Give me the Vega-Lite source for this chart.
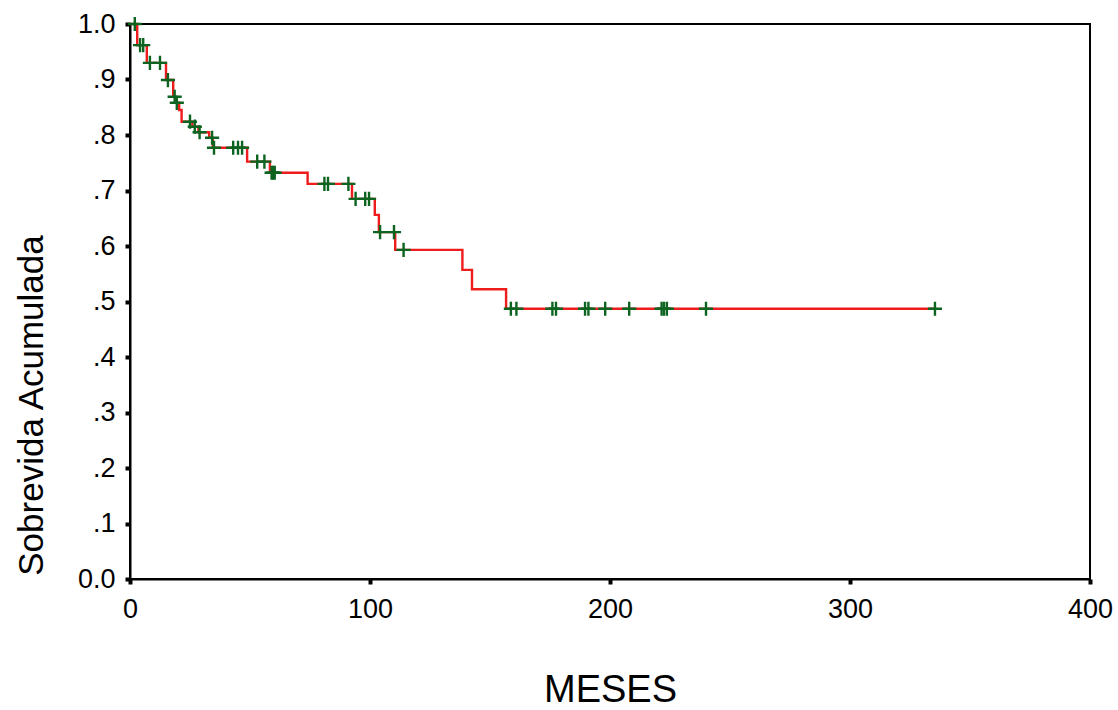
{
  "$schema": "https://vega.github.io/schema/vega-lite/v6.json",
  "width": 960,
  "height": 555,
  "autosize": {"type": "none"},
  "padding": {"left": 130, "top": 24, "right": 28, "bottom": 131},
  "background": "white",
  "config": {
    "view": {"stroke": "black", "strokeWidth": 2},
    "font": "Liberation Sans",
    "axis": {
      "grid": false,
      "domainColor": "black",
      "domainWidth": 2,
      "tickColor": "black",
      "tickSize": 5,
      "tickWidth": 4,
      "labelColor": "black",
      "titleColor": "black",
      "labelFont": "Liberation Sans",
      "titleFont": "Liberation Sans",
      "labelFontSize": 27,
      "titleFontWeight": "normal"
    }
  },
  "datasets": {
    "curve": [
      {"t": 0, "s": 1.0},
      {"t": 3, "s": 0.962},
      {"t": 7, "s": 0.93},
      {"t": 15, "s": 0.899},
      {"t": 18, "s": 0.869},
      {"t": 19, "s": 0.858},
      {"t": 20.5, "s": 0.845},
      {"t": 21.5, "s": 0.824},
      {"t": 26, "s": 0.815},
      {"t": 28.5, "s": 0.805},
      {"t": 33, "s": 0.795},
      {"t": 34.5, "s": 0.777},
      {"t": 48.8, "s": 0.752},
      {"t": 58.3, "s": 0.732},
      {"t": 74, "s": 0.712},
      {"t": 92.5, "s": 0.685},
      {"t": 102, "s": 0.656},
      {"t": 103.7, "s": 0.625},
      {"t": 110.5, "s": 0.593},
      {"t": 138.5, "s": 0.557},
      {"t": 142.5, "s": 0.522},
      {"t": 156.7, "s": 0.487},
      {"t": 335.5, "s": 0.487}
    ],
    "censored": [
      {"t": 2, "s": 1.0},
      {"t": 4.2, "s": 0.962},
      {"t": 5.5, "s": 0.962},
      {"t": 8.3, "s": 0.93},
      {"t": 12.5, "s": 0.93},
      {"t": 15.8, "s": 0.899},
      {"t": 18.6, "s": 0.869},
      {"t": 19.5, "s": 0.858},
      {"t": 25, "s": 0.824},
      {"t": 27, "s": 0.815},
      {"t": 29, "s": 0.805},
      {"t": 34.2, "s": 0.795},
      {"t": 35, "s": 0.777},
      {"t": 43, "s": 0.777},
      {"t": 45, "s": 0.777},
      {"t": 46.7, "s": 0.777},
      {"t": 53, "s": 0.752},
      {"t": 56, "s": 0.752},
      {"t": 59, "s": 0.732},
      {"t": 59.6, "s": 0.732},
      {"t": 60.3, "s": 0.732},
      {"t": 81, "s": 0.712},
      {"t": 82.5, "s": 0.712},
      {"t": 91, "s": 0.712},
      {"t": 94, "s": 0.685},
      {"t": 98, "s": 0.685},
      {"t": 99.6, "s": 0.685},
      {"t": 104.2, "s": 0.625},
      {"t": 110, "s": 0.625},
      {"t": 114, "s": 0.593},
      {"t": 158.7, "s": 0.487},
      {"t": 161, "s": 0.487},
      {"t": 176, "s": 0.487},
      {"t": 177.5, "s": 0.487},
      {"t": 189.6, "s": 0.487},
      {"t": 191, "s": 0.487},
      {"t": 198, "s": 0.487},
      {"t": 208, "s": 0.487},
      {"t": 221.5, "s": 0.487},
      {"t": 222.5, "s": 0.487},
      {"t": 223.7, "s": 0.487},
      {"t": 240, "s": 0.487},
      {"t": 335.4, "s": 0.487}
    ]
  },
  "encoding": {
    "x": {
      "field": "t",
      "type": "quantitative",
      "scale": {"domain": [0, 400], "nice": false, "zero": true},
      "axis": {
        "values": [0, 100, 200, 300, 400],
        "title": "MESES",
        "titleFontSize": 38,
        "titleAnchor": "middle",
        "titleBaseline": "middle",
        "titleY": 111,
        "labelPadding": 12,
        "labelFlush": false
      }
    },
    "y": {
      "field": "s",
      "type": "quantitative",
      "scale": {"domain": [0, 1], "nice": false},
      "axis": {
        "values": [0, 0.1, 0.2, 0.3, 0.4, 0.5, 0.6, 0.7, 0.8, 0.9, 1.0],
        "labelExpr": "datum.value == 0 ? '0.0' : (datum.value == 1 ? '1.0' : replace(format(datum.value, '.1f'), '0.', '.'))",
        "labelPadding": 10,
        "labelFlush": false,
        "title": "Sobrevida Acumulada",
        "titleFontSize": 35,
        "titleAngle": 270,
        "titleAlign": "center",
        "titleBaseline": "middle",
        "titleX": -99,
        "titleY": 381
      }
    }
  },
  "layer": [
    {
      "data": {"name": "curve"},
      "mark": {"type": "line", "interpolate": "step-after", "color": "#ee1c1c", "strokeWidth": 2.4}
    },
    {
      "data": {"name": "censored"},
      "mark": {
        "type": "point",
        "shape": "M0,-1V1M-1,0H1",
        "filled": false,
        "size": 200,
        "stroke": "#0d6420",
        "strokeWidth": 2.4,
        "opacity": 1
      }
    }
  ]
}
